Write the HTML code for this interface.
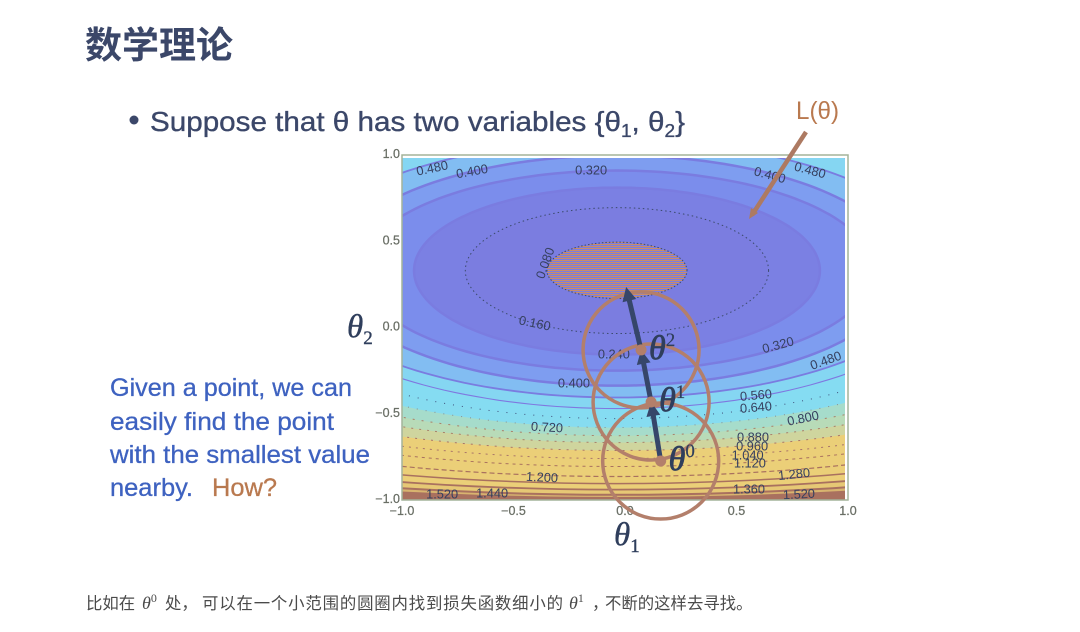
<!DOCTYPE html>
<html lang="zh">
<head>
<meta charset="utf-8">
<title>数学理论</title>
<style>
html,body{margin:0;padding:0;background:#fff;width:1080px;height:632px;overflow:hidden}
svg{display:block}
text{font-family:"Liberation Sans","Noto Sans CJK SC",sans-serif}
.math{font-family:"Liberation Serif","Noto Serif CJK SC",serif;font-style:italic}
</style>
</head>
<body>
<svg id="slide" width="1080" height="632" viewBox="0 0 1080 632" xmlns="http://www.w3.org/2000/svg">
  <defs>
    <clipPath id="plot-clip"><rect x="402" y="155" width="446" height="345"/></clipPath>
    <pattern id="inner-hatch" width="2" height="2" patternUnits="userSpaceOnUse">
      <rect width="2" height="2" fill="#7b7de0"/>
      <rect width="2" height="1" fill="#c98d68"/>
    </pattern>
  </defs>
  <text x="85" y="58" font-size="37" font-weight="700" fill="#3b4769">数学理论</text>
  <circle cx="134" cy="120" r="4.5" fill="#3b4769"/>
  <text x="150" y="131" font-size="28" fill="#3b4769" stroke="#3b4769" stroke-width="0.35" textLength="535" lengthAdjust="spacingAndGlyphs">Suppose that θ has two variables {θ<tspan font-size="18" dy="6">1</tspan><tspan dy="-6">, θ</tspan><tspan font-size="18" dy="6">2</tspan><tspan dy="-6">}</tspan></text>
  <g id="chart"></g>
  <g>
    <text x="796" y="119" font-size="25" fill="#b9794f" textLength="43" lengthAdjust="spacingAndGlyphs">L(θ)</text>
    <line x1="752" y1="215" x2="806" y2="132" stroke="#ad7a62" stroke-width="4.5"/>
    <polygon points="749,219 751,208 758,213" fill="#ad7a62"/>
  </g>
  <text class="math" x="347" y="337" font-size="33" fill="#2f3e5c" stroke="#2f3e5c" stroke-width="0.4">θ<tspan font-size="19" dy="7" font-style="normal">2</tspan></text>
  <text class="math" x="614" y="545" font-size="33" fill="#2f3e5c" stroke="#2f3e5c" stroke-width="0.4">θ<tspan font-size="19" dy="7" font-style="normal">1</tspan></text>
  <g font-size="25" fill="#3e62c0" stroke="#3e62c0" stroke-width="0.3">
    <text x="110" y="396" textLength="242" lengthAdjust="spacingAndGlyphs">Given a point, we can</text>
    <text x="110" y="430" textLength="224" lengthAdjust="spacingAndGlyphs">easily find the point</text>
    <text x="110" y="463" textLength="260" lengthAdjust="spacingAndGlyphs">with the smallest value</text>
    <text x="110" y="496" textLength="83" lengthAdjust="spacingAndGlyphs">nearby.</text>
    <text x="212" y="496" fill="#b9794f" stroke="#b9794f" textLength="65" lengthAdjust="spacingAndGlyphs">How?</text>
  </g>
  <g font-size="16.4" fill="#4a4a4a">
    <text x="86" y="609">比如在</text>
    <text class="math" x="142" y="609" font-size="18">θ<tspan font-size="12" dy="-7" font-style="normal">0</tspan></text>
    <text x="165" y="609">处，</text>
    <text x="202" y="609" textLength="361">可以在一个小范围的圆圈内找到损失函数细小的</text>
    <text class="math" x="569" y="609" font-size="18">θ<tspan font-size="12" dy="-7" font-style="normal">1</tspan></text>
    <text x="592" y="609">，</text>
    <text x="605" y="609">不断的这样去寻找。</text>
  </g>
</svg>
<script>
var NS = 'http://www.w3.org/2000/svg';

// contour data (theta units)
var contourLevels = [0.08, 0.16, 0.24, 0.32, 0.40, 0.48, 0.56, 0.64, 0.72, 0.80, 0.88, 0.96, 1.04, 1.12, 1.20, 1.28, 1.36, 1.44, 1.52];
var contourSemiAxisTheta1 = [0.314, 0.68, 0.91, 1.15, 1.28, 1.46, 1.55, 1.75, 1.9, 2.1, 2.3, 2.5, 2.7, 2.9, 3.1, 3.4, 3.7, 4.0, 4.4];
var contourSemiAxisUp = [0.165, 0.365, 0.481, 0.58, 0.667, 0.754, 0.87, 1.0, 1.1, 1.2, 1.3, 1.4, 1.5, 1.6, 1.7, 1.8, 1.9, 2.0, 2.1];
var contourSemiAxisDown = [0.162, 0.365, 0.487, 0.58, 0.667, 0.736, 0.80, 0.858, 0.91, 0.957, 0.997, 1.043, 1.09, 1.136, 1.194, 1.235, 1.27, 1.30, 1.32];
var minimumTheta1 = -0.036;
var minimumTheta2 = 0.33;

var xTickValues = [-1.0, -0.5, 0.0, 0.5, 1.0];
var xTickLabels = ['\u22121.0', '\u22120.5', '0.0', '0.5', '1.0'];
var yTickValues = [-1.0, -0.5, 0.0, 0.5, 1.0];
var yTickLabels = ['\u22121.0', '\u22120.5', '0.0', '0.5', '1.0'];

var contourLabelText = ['0.480','0.400','0.320','0.400','0.480','0.080','0.160','0.240','0.320','0.400','0.480','0.560','0.640','0.720','0.800','0.880','0.960','1.040','1.120','1.200','1.280','1.360','1.440','1.520','1.520'];
var contourLabelTheta1 = [-0.865,-0.686,-0.152,0.65,0.83,-0.359,-0.404,-0.05,0.686,-0.229,0.90,0.587,0.587,-0.35,0.798,0.574,0.57,0.55,0.56,-0.372,0.758,0.556,-0.596,-0.82,0.78];
var contourLabelTheta2 = [0.925,0.907,0.913,0.885,0.913,0.374,0.026,-0.154,-0.10,-0.322,-0.19,-0.391,-0.461,-0.577,-0.525,-0.635,-0.687,-0.739,-0.786,-0.867,-0.849,-0.936,-0.96,-0.965,-0.965];
var contourLabelAngle = [-12,-10,0,15,15,-70,12,0,-15,0,-20,-5,-5,3,-12,0,0,0,0,3,-6,0,0,0,-3];

var stepTheta1 = [0.16, 0.117, 0.072, 0.005];
var stepTheta2 = [-0.774, -0.432, -0.13, 0.235];
var stepLabels = ['0', '1', '2'];

// band colours per level (band lies just inside that level), then line styles per level
var outerBandColor = '#a9715f';
var bandColors = ['url(#inner-hatch)', '#7b7de0', '#7b80e3', '#7b8dec', '#7e9df0', '#82bdf2', '#85d6f2', '#85dcf2', '#86dcf0', '#a6dccb', '#b8dbb8', '#cfd59e', '#ebcf78', '#ebcf78', '#ebcf78', '#ebcf78', '#ebcf78', '#e6c875', '#d8b46f'];
var lineColors = ['#3b4a6b','#3b4a6b','#7a7ce0','#7a7ce0','#7a7ce0','#7a7ce0','#7f78e0','#3f4f7a','#8a9090','#a9806a','#a9806a','#a9756a','#a9756a','#a9715f','#a9715f','#a9715f','#a9715f','#a9715f','#a9715f'];
var lineWidths = [1, 1, 2.5, 2.5, 2.5, 1.8, 1.1, 1, 1, 1, 1, 1, 1, 1, 1.2, 1.5, 1.8, 2, 2.5];
var lineDashes = ['1.5 2', '1.5 3', '', '', '', '', '', '1 8', '1 8', '2 7', '2 6', '2 6', '2 5', '3 4', '5 3', '', '', '', ''];

var plotLeft = 402, plotRight = 848, plotTop = 155, plotBottom = 500;
function xScale(v) { return plotLeft + (v + 1) / 2 * (plotRight - plotLeft); }
function yScale(v) { return plotBottom - (v + 1) / 2 * (plotBottom - plotTop); }

var chart = document.getElementById('chart');

var plotGroup = document.createElementNS(NS, 'g');


plotGroup.setAttribute('clip-path', 'url(#plot-clip)');
chart.appendChild(plotGroup);

var bg = document.createElementNS(NS, 'rect');


bg.setAttribute('x', plotLeft);
bg.setAttribute('y', plotTop);
bg.setAttribute('width', plotRight - plotLeft);
bg.setAttribute('height', plotBottom - plotTop);
bg.setAttribute('fill', outerBandColor);
plotGroup.appendChild(bg);

function contourPath(i) {
  var d = '';
  for (var k = 0; k <= 180; k++) {
    var t = k / 180 * Math.PI * 2;
    var s = Math.sin(t);
    var px = xScale(minimumTheta1 + contourSemiAxisTheta1[i] * Math.cos(t));
    var py = yScale(minimumTheta2 + (s >= 0 ? contourSemiAxisUp[i] : contourSemiAxisDown[i]) * s);
    d += (k ? 'L' : 'M') + px.toFixed(1) + ' ' + py.toFixed(1);
  }
  return d + 'Z';
}

for (var i = contourLevels.length - 1; i >= 0; i--) {
  var fillPath = document.createElementNS(NS, 'path');
  
  
  fillPath.setAttribute('d', contourPath(i));
  fillPath.setAttribute('fill', bandColors[i]);
  plotGroup.appendChild(fillPath);
}
for (var j = contourLevels.length - 1; j >= 0; j--) {
  var linePath = document.createElementNS(NS, 'path');
  
  
  linePath.setAttribute('d', contourPath(j));
  linePath.setAttribute('fill', 'none');
  linePath.setAttribute('stroke', lineColors[j]);
  linePath.setAttribute('stroke-width', lineWidths[j]);
  if (lineDashes[j]) linePath.setAttribute('stroke-dasharray', lineDashes[j]);
  plotGroup.appendChild(linePath);
}

var topStrip = document.createElementNS(NS, 'rect');


topStrip.setAttribute('x', plotLeft);
topStrip.setAttribute('y', plotTop);
topStrip.setAttribute('width', plotRight - plotLeft);
topStrip.setAttribute('height', 3);
topStrip.setAttribute('fill', '#ffffff');
plotGroup.appendChild(topStrip);

var rightStrip = document.createElementNS(NS, 'rect');


rightStrip.setAttribute('x', plotRight - 3);
rightStrip.setAttribute('y', plotTop);
rightStrip.setAttribute('width', 3);
rightStrip.setAttribute('height', plotBottom - plotTop);
rightStrip.setAttribute('fill', '#ffffff');
plotGroup.appendChild(rightStrip);

for (var c = 0; c < contourLabelText.length; c++) {
  var lab = document.createElementNS(NS, 'text');
  
  
  var lx = xScale(contourLabelTheta1[c]);
  var ly = yScale(contourLabelTheta2[c]);
  lab.setAttribute('x', lx);
  lab.setAttribute('y', ly + 4.5);
  lab.setAttribute('text-anchor', 'middle');
  lab.setAttribute('font-size', '12.8');
  lab.setAttribute('fill', '#36405f');
  lab.setAttribute('transform', 'rotate(' + contourLabelAngle[c] + ' ' + lx + ' ' + ly + ')');
  lab.textContent = contourLabelText[c];
  plotGroup.appendChild(lab);
}

var frame = document.createElementNS(NS, 'rect');


frame.setAttribute('x', plotLeft);
frame.setAttribute('y', plotTop);
frame.setAttribute('width', plotRight - plotLeft);
frame.setAttribute('height', plotBottom - plotTop);
frame.setAttribute('fill', 'none');
frame.setAttribute('stroke', '#a3b39a');
frame.setAttribute('stroke-width', '1.5');
chart.appendChild(frame);

for (var xt = 0; xt < xTickValues.length; xt++) {
  var xl = document.createElementNS(NS, 'text');
  
  
  xl.setAttribute('x', xScale(xTickValues[xt]));
  xl.setAttribute('y', plotBottom + 15);
  xl.setAttribute('text-anchor', 'middle');
  xl.setAttribute('font-size', '12.5');
  xl.setAttribute('fill', '#6a6f66');
  xl.setAttribute('stroke', '#6a6f66');
  xl.setAttribute('stroke-width', '0.25');
  xl.textContent = xTickLabels[xt];
  chart.appendChild(xl);
}
for (var yt = 0; yt < yTickValues.length; yt++) {
  var yl = document.createElementNS(NS, 'text');
  
  
  yl.setAttribute('x', plotLeft - 2);
  yl.setAttribute('y', yScale(yTickValues[yt]) + 3);
  yl.setAttribute('text-anchor', 'end');
  yl.setAttribute('font-size', '12.5');
  yl.setAttribute('fill', '#6a6f66');
  yl.setAttribute('stroke', '#6a6f66');
  yl.setAttribute('stroke-width', '0.25');
  yl.textContent = yTickLabels[yt];
  chart.appendChild(yl);
}

// search circles around the first three steps
for (var r = 0; r < 3; r++) {
  var circ = document.createElementNS(NS, 'circle');
  
  
  circ.setAttribute('cx', xScale(stepTheta1[r]));
  circ.setAttribute('cy', yScale(stepTheta2[r]));
  circ.setAttribute('r', 58);
  circ.setAttribute('fill', 'none');
  circ.setAttribute('stroke', '#b37f6b');
  circ.setAttribute('stroke-width', '3.5');
  chart.appendChild(circ);
}

// descent arrows between consecutive steps
for (var a = 0; a < stepTheta1.length - 1; a++) {
  var x1 = xScale(stepTheta1[a]), y1 = yScale(stepTheta2[a]);
  var x2 = xScale(stepTheta1[a + 1]), y2 = yScale(stepTheta2[a + 1]);
  var len = Math.hypot(x2 - x1, y2 - y1);
  var ux = (x2 - x1) / len, uy = (y2 - y1) / len;
  var shaft = document.createElementNS(NS, 'line');
  
  
  shaft.setAttribute('x1', x1);
  shaft.setAttribute('y1', y1);
  shaft.setAttribute('x2', x2 - ux * 8);
  shaft.setAttribute('y2', y2 - uy * 8);
  shaft.setAttribute('stroke', '#36466a');
  shaft.setAttribute('stroke-width', '5');
  chart.appendChild(shaft);
  var head = document.createElementNS(NS, 'polygon');
  
  
  var bx = x2 - ux * 14, by = y2 - uy * 14;
  head.setAttribute('points', x2 + ',' + y2 + ' ' + (bx - uy * 7) + ',' + (by + ux * 7) + ' ' + (bx + uy * 7) + ',' + (by - ux * 7));
  head.setAttribute('fill', '#36466a');
  chart.appendChild(head);
}

for (var p = 0; p < 3; p++) {
  var dot = document.createElementNS(NS, 'circle');
  
  
  dot.setAttribute('cx', xScale(stepTheta1[p]));
  dot.setAttribute('cy', yScale(stepTheta2[p]));
  dot.setAttribute('r', 5.5);
  dot.setAttribute('fill', '#b37f6b');
  chart.appendChild(dot);
  var t = document.createElementNS(NS, 'text');
  
  
  t.setAttribute('class', 'math');
  t.setAttribute('x', xScale(stepTheta1[p]) + 8);
  t.setAttribute('y', yScale(stepTheta2[p]) + 9);
  t.setAttribute('font-size', '34');
  t.setAttribute('fill', '#2f3e5c');
  t.setAttribute('stroke', '#2f3e5c');
  t.setAttribute('stroke-width', '0.8');
  t.textContent = '\u03b8';
  var sup = document.createElementNS(NS, 'tspan');
  sup.setAttribute('font-size', '19');
  sup.setAttribute('dy', '-13');
  sup.setAttribute('font-style', 'normal');
  sup.setAttribute('stroke-width', '0.2');
  sup.textContent = stepLabels[p];
  t.appendChild(sup);
  chart.appendChild(t);
}
</script>
</body>
</html>
